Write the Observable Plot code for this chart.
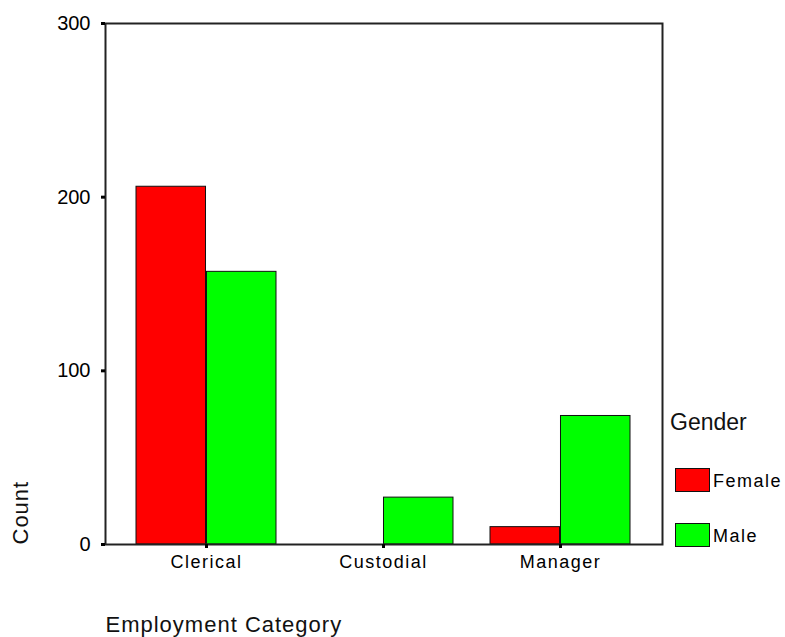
<!DOCTYPE html>
<html>
<head>
<meta charset="utf-8">
<script src="https://cdn.jsdelivr.net/npm/d3@7"></script>
<script src="https://cdn.jsdelivr.net/npm/@observablehq/plot@0.6"></script>
<style>
  html, body { margin: 0; padding: 0; background: #fff; }
  #chart { width: 785px; height: 637px; }
  g[aria-label="x-axis tick label"] text { letter-spacing: 1.5px; }
</style>
</head>
<body>
<div id="chart"></div>
<script>
// ---- data ----
const categories = ["Clerical", "Custodial", "Manager"];
const genders = ["Female", "Male"];
const femaleCounts = [206, 0, 10];
const maleCounts = [157, 27, 74];
const yTicks = [0, 100, 200, 300];
const genderColors = ["#ff0000", "#00ff00"];
const xTitle = "Employment Category";
const yTitle = "Count";
const legendTitle = "Gender";

const femaleRows = categories.map((c, i) => ({category: c, gender: "Female", count: femaleCounts[i]}));
const maleRows = categories.map((c, i) => ({category: c, gender: "Male", count: maleCounts[i]}));

const W = 785, H = 637;
const mL = 105, mR = 123, mT = 23, mB = 93;
const padIn = 0.207, padOut = 0.17;
const half = d3.scaleBand().domain(categories).range([mL, W - mR])
  .paddingInner(padIn).paddingOuter(padOut).bandwidth() / 2;

const font = "'Liberation Sans', Arial, sans-serif";

const plot = Plot.plot({
  width: W,
  height: H,
  marginLeft: mL,
  marginRight: mR,
  marginTop: mT,
  marginBottom: mB,
  style: {fontFamily: font, background: "#fff", color: "#000"},
  x: {domain: categories, paddingInner: padIn, paddingOuter: padOut, label: null},
  y: {domain: [0, 300], label: null},
  color: {domain: genders, range: genderColors},
  marks: [
    Plot.barY(femaleRows, {x: "category", y: "count", fill: "gender", stroke: "#111", strokeWidth: 1, insetLeft: 0, insetRight: half}),
    Plot.barY(maleRows, {x: "category", y: "count", fill: "gender", stroke: "#111", strokeWidth: 1, insetLeft: half, insetRight: 0}),
    Plot.frame({stroke: "#222", strokeWidth: 2}),
    Plot.axisY({ticks: yTicks, tickSize: 4, tickPadding: 11, stroke: "#000", strokeWidth: 3, fontSize: 20, label: null, tickFormat: d => d}),
    Plot.axisX({tickSize: 4, tickPadding: 7, stroke: "#000", strokeWidth: 3, fontSize: 18, label: null}),
    Plot.text([xTitle], {text: d => d, frameAnchor: "bottom-left", textAnchor: "start", lineAnchor: "middle", dy: 80, fontSize: 22, fill: "#111"}),
    Plot.text([yTitle], {text: d => d, frameAnchor: "bottom-left", textAnchor: "start", lineAnchor: "middle", rotate: -90, dx: -85, fontSize: 22, fill: "#111"})
  ]
});

document.getElementById("chart").appendChild(plot);

// letter spacing for titles
d3.select(plot).selectAll("text").filter(function() { return this.textContent === xTitle || this.textContent === yTitle; })
  .style("letter-spacing", "1px");

// ---- legend drawn inside the SVG ----
const color = plot.scale("color");
const lg = d3.select(plot).append("g").attr("font-family", font).attr("text-anchor", "start");
lg.append("text").attr("x", 670).attr("y", 430).attr("font-size", 23).attr("fill", "#111").text(legendTitle);
const rowY = [468, 523];
color.domain.forEach((g, i) => {
  lg.append("rect").attr("x", 675.5).attr("y", rowY[i] + 0.5).attr("width", 34).attr("height", 23)
    .attr("fill", color.range[i]).attr("stroke", "#111").attr("stroke-width", 1);
  lg.append("text").attr("x", 713).attr("y", rowY[i] + 19).attr("font-size", 18)
    .style("letter-spacing", "1.5px").attr("fill", "#000").text(g);
});
</script>
</body>
</html>
